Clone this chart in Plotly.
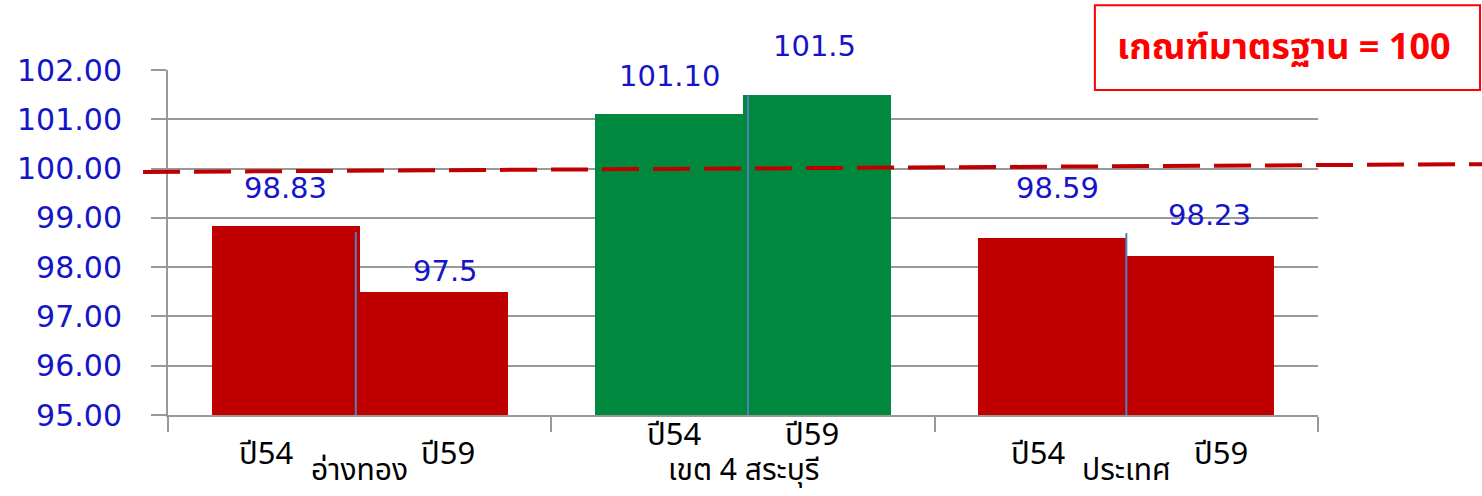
import plotly.graph_objects as go

# ---- data ----
groups = ["อ่างทอง", "เขต 4 สระบุรี", "ประเทศ"]
years = ["ปี54", "ปี59"]
values_54 = [98.83, 101.10, 98.59]
values_59 = [97.5, 101.5, 98.23]
value_text_54 = ["98.83", "101.10", "98.59"]
value_text_59 = ["97.5", "101.5", "98.23"]
bar_colors = ["#C00000", "#00893E", "#C00000"]
divider_top = [98.71, 101.49, 98.69]
standard = 100
y_ticks = [95, 96, 97, 98, 99, 100, 101, 102]

# ---- styling ----
BLUE = "#1515C8"
GRID = "#999999"
BASE = 95
BAR_W = 0.386
OFF = 0.193
THAI_FONT = "Tahoma, 'Noto Sans Thai', Loma, Garuda, 'Liberation Sans', sans-serif"
NUM_FONT = "'DejaVu Sans', Verdana, sans-serif"
divider_dx = [-0.01, 0.013, 0.0]

gx = list(range(len(groups)))
fig = go.Figure()

# bars for each year, drawn from the baseline 95
fig.add_trace(go.Bar(
    x=[g - OFF for g in gx], y=[v - BASE for v in values_54], base=BASE,
    width=BAR_W, marker=dict(color=bar_colors, line=dict(width=0)),
    hoverinfo="skip", showlegend=False))
fig.add_trace(go.Bar(
    x=[g + OFF for g in gx], y=[v - BASE for v in values_59], base=BASE,
    width=BAR_W, marker=dict(color=bar_colors, line=dict(width=0)),
    hoverinfo="skip", showlegend=False))

# thin divider line between the two bars of each group
for g, top in zip(gx, divider_top):
    xd = g + divider_dx[g]
    fig.add_trace(go.Scatter(
        x=[xd, xd], y=[BASE, top], mode="lines",
        line=dict(color="#4F81BD", width=2), hoverinfo="skip", showlegend=False))

# value labels above the bars
lab_shift_54 = [38, 38, 50]
lab_shift_59 = [21, 49, 41]
lab_xshift_54 = [0, 0, 5]
lab_xshift_59 = [12, -2, 9]
for g in gx:
    fig.add_annotation(x=g - OFF, y=values_54[g], text=value_text_54[g],
                       showarrow=False, yanchor="middle", yshift=lab_shift_54[g],
                       xshift=lab_xshift_54[g],
                       font=dict(family=NUM_FONT, size=29, color=BLUE))
    fig.add_annotation(x=g + OFF, y=values_59[g], text=value_text_59[g],
                       showarrow=False, yanchor="middle", yshift=lab_shift_59[g],
                       xshift=lab_xshift_59[g],
                       font=dict(family=NUM_FONT, size=29, color=BLUE))

# category axis labels (year labels + group names)
year_dx = [(-94, 88), (-69, 69), (-88, 95)]
year_dy = [-39, -20, -39]
for g in gx:
    for j, yr in enumerate(years):
        fig.add_annotation(x=g, y=0, xref="x", yref="paper", text=yr,
                           showarrow=False, yanchor="middle",
                           xshift=year_dx[g][j], yshift=year_dy[g],
                           font=dict(family=THAI_FONT, size=31, color="#000000"))
    fig.add_annotation(x=g, y=0, xref="x", yref="paper", text=groups[g],
                       showarrow=False, yanchor="middle", yshift=-56,
                       font=dict(family=THAI_FONT, size=30, color="#000000"))

# standard reference line
fig.add_shape(type="line", xref="paper", yref="y",
              x0=-0.0217, x1=1.1426, y0=standard - 0.07, y1=standard + 0.09,
              line=dict(color="#C00000", width=4, dash="37px,14px"))

# standard note box
fig.add_shape(type="rect", xref="paper", yref="paper",
              x0=0.806, x1=1.1409, y0=0.942, y1=1.188,
              line=dict(color="#FF0000", width=2), fillcolor="rgba(0,0,0,0)")
fig.add_annotation(xref="paper", yref="paper", x=0.9700, y=1.065,
                   text="<b>เกณฑ์มาตรฐาน = %d</b>" % standard, showarrow=False,
                   xanchor="center", yanchor="middle",
                   font=dict(family=THAI_FONT, size=36, color="#FF0000"))

fig.update_layout(
    width=1482, height=496,
    margin=dict(l=168, r=164, t=70, b=81),
    paper_bgcolor="white", plot_bgcolor="white",
    bargap=0, barmode="overlay",
    xaxis=dict(range=[-0.5, 2.5], tickvals=[-0.5, 0.5, 1.5, 2.5],
               showticklabels=False, ticks="outside", ticklen=15,
               tickcolor=GRID, tickwidth=2, showgrid=False, zeroline=False,
               showline=True, linecolor=GRID, linewidth=2),
    yaxis=dict(range=[95, 102], tickvals=y_ticks,
               ticktext=["%.2f" % t for t in y_ticks],
               ticks="outside", ticklen=15, tickcolor=GRID, tickwidth=2,
               ticklabelstandoff=23,
               tickfont=dict(family=NUM_FONT, size=30, color=BLUE),
               showgrid=True, gridcolor=GRID, gridwidth=2, zeroline=False,
               showline=True, linecolor=GRID, linewidth=2),
)

fig.write_html("out.html")
